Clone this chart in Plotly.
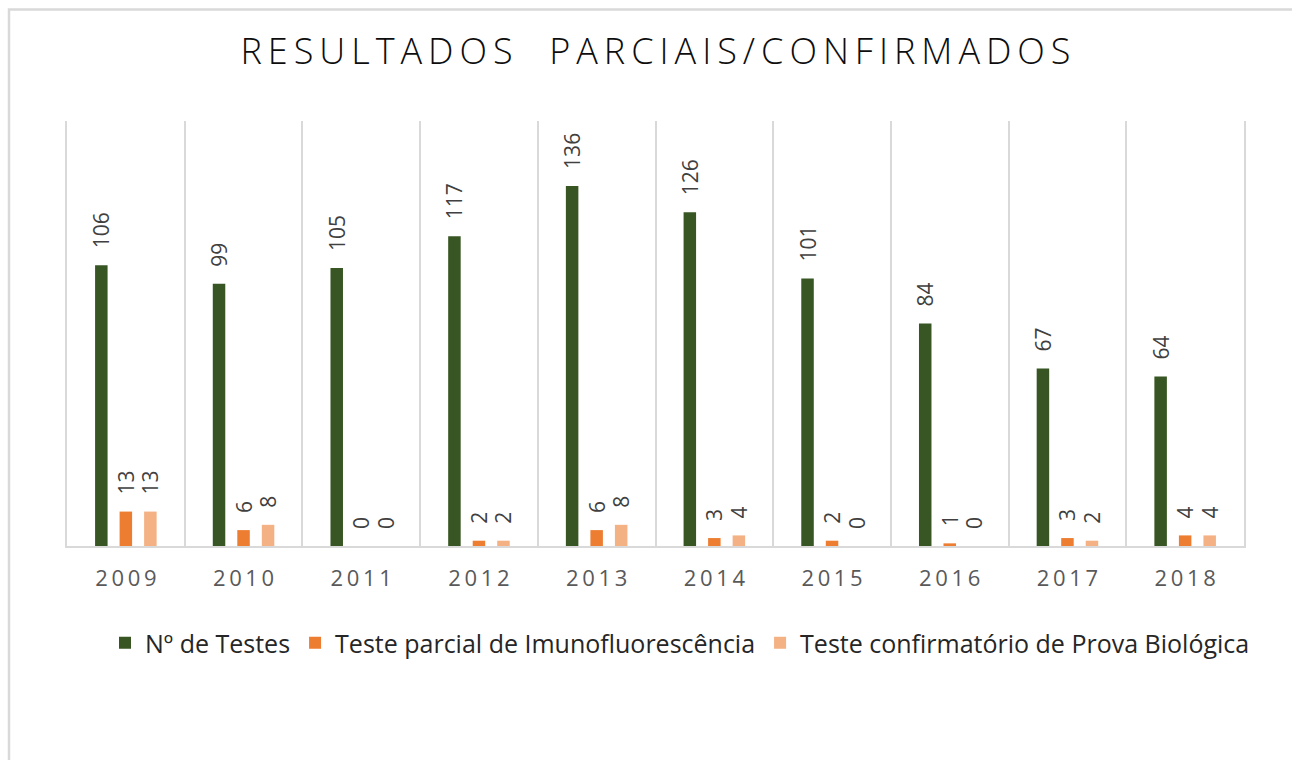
import plotly.graph_objects as go

years = ["2009", "2010", "2011", "2012", "2013", "2014", "2015", "2016", "2017", "2018"]
n_testes = [106, 99, 105, 117, 136, 126, 101, 84, 67, 64]
imuno = [13, 6, 0, 2, 6, 3, 2, 1, 3, 4]
prova = [13, 8, 0, 2, 8, 4, 0, 0, 2, 4]
series_names = ["Nº de Testes", "Teste parcial de Imunofluorescência", "Teste confirmatório de Prova Biológica"]
colors = ["#375623", "#ED7D31", "#F4B183"]
title_text = "RESULTADOS  PARCIAIS/CONFIRMADOS"

tick_text = ["\u2009".join(list(y)) for y in years]
spaced_title = "\u2009".join(list(title_text))

fig = go.Figure()
for name, vals, col in zip(series_names, [n_testes, imuno, prova], colors):
    fig.add_trace(go.Bar(
        x=years, y=vals, name=name, marker_color=col, marker_line_width=0,
        text=["\u2002\u2009" + str(v) for v in vals], textposition="outside", textangle=-90,
        textfont=dict(size=21, color="#404040", family="Open Sans"),
        constraintext="none", cliponaxis=False,
    ))

W, H = 1292, 760
L, R, T, B = 67, 48, 121, 214
pw, ph = W - L - R, H - T - B

fig.update_layout(
    width=W, height=H,
    margin=dict(l=L, r=R, t=T, b=B),
    paper_bgcolor="white", plot_bgcolor="white",
    barmode="group", bargap=0.375, bargroupgap=0.49,
    font=dict(family="Open Sans", color="#404040"),
    title=dict(text=spaced_title, x=0.5, xref="paper", xanchor="center",
               y=1 - 51 / H, yref="container", yanchor="middle",
               font=dict(size=36, color="#0d0d0d", family="Open Sans", weight=300)),
    legend=dict(orientation="h", x=(680 - L) / pw, xanchor="center", y=(546 - 643) / ph, yanchor="middle",
                font=dict(size=25, color="#262626", family="Open Sans"), traceorder="normal",
                itemsizing="constant"),
    xaxis=dict(type="category", tickvals=years, ticktext=tick_text, tickson="boundaries",
               showgrid=True, gridcolor="#d9d9d9", gridwidth=2, ticks="", ticklen=0,
               showline=True, linecolor="#d9d9d9", linewidth=2, mirror=False,
               tickfont=dict(size=22, color="#595959", family="Open Sans"), ticklabelstandoff=12),
    yaxis=dict(range=[0, 160.5], showgrid=False, showticklabels=False, zeroline=False,
               showline=True, linecolor="#d9d9d9", linewidth=2, mirror=True, ticks=""),
    shapes=[dict(type="rect", xref="paper", yref="paper",
                 x0=(9 - L) / pw, x1=(1305 - L) / pw, y0=(546 - 820) / ph, y1=(546 - 9.5) / ph,
                 line=dict(color="#d9d9d9", width=2.5), fillcolor="rgba(0,0,0,0)", layer="below")],
)

fig.write_html("out.html")
